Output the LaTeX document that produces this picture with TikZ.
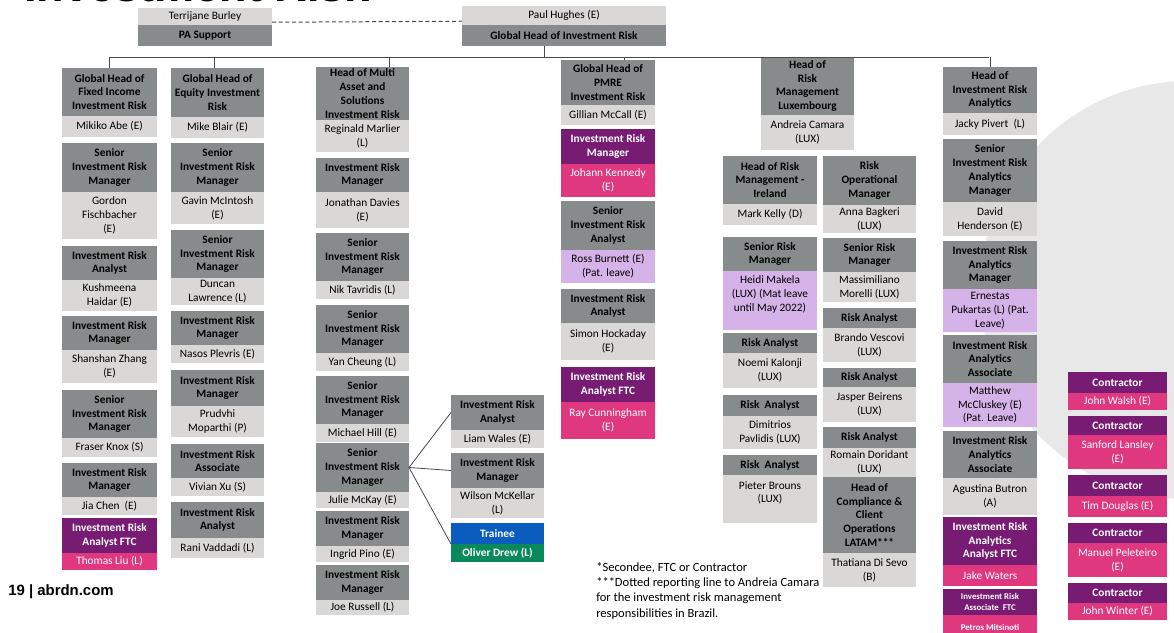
\documentclass[tikz,border=0pt]{standalone}
\usepackage{fontspec}
\setmainfont{Carlito}
\newfontfamily\arialfont{Liberation Sans}
\usepackage{tikz}
\usetikzlibrary{positioning}

\definecolor{titlegrey}{HTML}{878B8B}
\definecolor{namegrey}{HTML}{DAD7D7}
\definecolor{plum}{HTML}{781B72}
\definecolor{pinkc}{HTML}{E0387F}
\definecolor{lavender}{HTML}{D5B2E7}
\definecolor{traineeblue}{HTML}{0B5CBF}
\definecolor{traineegreen}{HTML}{0A8A5C}
\definecolor{linkgrey}{HTML}{4A4A4A}
\definecolor{bgcircle}{HTML}{E8E8E8}

% one role: title part over name part, column set by \bx and \bw
\newcommand{\rolebox}[8]{%
  \node (#1) [#5, minimum width={\bw*0.75pt}, minimum height={(#3-#2)*0.75pt}]
    at ({\bx+\bw/2},{(#2+#3)/2}) {#7};
  \node (#1p) [#6, minimum width={\bw*0.75pt}, minimum height={(#4-#3)*0.75pt}]
    at ({\bx+\bw/2},{(#3+#4)/2}) {#8};}

\begin{document}
\begin{tikzpicture}[x=0.75pt, y=-0.75pt,
  ttl/.style={fill=titlegrey, text=black, align=center, inner sep=0pt,
    outer sep=0pt, font=\bfseries\fontsize{8.5}{10.3}\selectfont},
  nme/.style={fill=namegrey, text=black, align=center, inner sep=0pt,
    outer sep=0pt, font=\fontsize{8.5}{10.3}\selectfont},
  ttlftc/.style={ttl, fill=plum, text=white},
  nmeftc/.style={nme, fill=pinkc, text=white},
  nmeleave/.style={nme, fill=lavender},
  ttltrainee/.style={ttl, fill=traineeblue, text=white},
  nmetrainee/.style={nme, fill=traineegreen, text=white},
  orgline/.style={draw=linkgrey, line width=0.75pt}]

\useasboundingbox (0,0) rectangle (1174,632);
\clip (0,0) rectangle (1174,632);
\fill[white] (0,0) rectangle (1174,632);
\fill[bgcircle] (1189,290) circle (209);

\node (slidetitle) [anchor=base west, inner sep=0pt,
  font=\arialfont\bfseries\fontsize{33.8}{40}\selectfont] at (24,1.5) {Investment Risk};

% top of the tree
\node (terri) [nme, minimum width=100.5pt, minimum height=12.75pt] at (205,16.5) {Terrijane Burley};
\node (pa) [ttl, minimum width=100.5pt, minimum height=15.75pt] at (205,35.5) {PA Support};
\node (paul) [nme, minimum width=153pt, minimum height=14.25pt] at (564,15.5) {Paul Hughes (E)};
\node (ghir) [ttl, minimum width=153pt, minimum height=15.75pt] at (564,35.5) {Global Head of Investment Risk};

% fixed income
\def\bx{62}\def\bw{95}
\rolebox{fi1}{68}{116}{137}{ttl}{nme}{Global Head of\\Fixed Income\\Investment Risk}{Mikiko Abe (E)}
\rolebox{fi2}{143}{192}{239}{ttl}{nme}{Senior\\Investment Risk\\Manager}{Gordon\\Fischbacher\\(E)}
\rolebox{fi3}{246}{280}{311}{ttl}{nme}{Investment Risk\\Analyst}{Kushmeena\\Haidar (E)}
\rolebox{fi4}{316}{350}{383}{ttl}{nme}{Investment Risk\\Manager}{Shanshan Zhang\\(E)}
\rolebox{fi5}{390}{438}{457}{ttl}{nme}{Senior\\Investment Risk\\Manager}{Fraser Knox (S)}
\rolebox{fi6}{463}{497}{515}{ttl}{nme}{Investment Risk\\Manager}{Jia Chen\ \ (E)}
\rolebox{fi7}{518}{553}{570}{ttlftc}{nmeftc}{Investment Risk\\Analyst FTC}{Thomas Liu (L)}

% equity
\def\bx{171}\def\bw{93}
\rolebox{eq1}{68}{117}{138}{ttl}{nme}{Global Head of\\Equity Investment\\Risk}{Mike Blair (E)}
\rolebox{eq2}{143}{192}{224}{ttl}{nme}{Senior\\Investment Risk\\Manager}{Gavin McIntosh\\(E)}
\rolebox{eq3}{230}{278}{305}{ttl}{nme}{Senior\\Investment Risk\\Manager}{Duncan\\Lawrence (L)}
\rolebox{eq4}{311}{345}{363}{ttl}{nme}{Investment Risk\\Manager}{Nasos Plevris (E)}
\rolebox{eq5}{370}{406}{437}{ttl}{nme}{Investment Risk\\Manager}{Prudvhi\\Moparthi (P)}
\rolebox{eq6}{444}{478}{496}{ttl}{nme}{Investment Risk\\Associate}{Vivian Xu (S)}
\rolebox{eq7}{502}{538}{558}{ttl}{nme}{Investment Risk\\Analyst}{Rani Vaddadi (L)}

% multi asset
\def\bx{316}\def\bw{93}
\rolebox{ma1}{67}{120}{152}{ttl}{nme}{Head of Multi\\Asset and\\Solutions\\Investment Risk}{Reginald Marlier\\(L)}
\rolebox{ma2}{158}{192}{228}{ttl}{nme}{Investment Risk\\Manager}{Jonathan Davies\\(E)}
\rolebox{ma3}{233}{281}{299}{ttl}{nme}{Senior\\Investment Risk\\Manager}{Nik Tavridis (L)}
\rolebox{ma4}{305}{353}{371}{ttl}{nme}{Senior\\Investment Risk\\Manager}{Yan Cheung (L)}
\rolebox{ma5}{376}{424}{442}{ttl}{nme}{Senior\\Investment Risk\\Manager}{Michael Hill (E)}
\rolebox{ma6}{443}{492}{508}{ttl}{nme}{Senior\\Investment Risk\\Manager}{Julie McKay (E)}
\rolebox{ma7}{511}{546}{562}{ttl}{nme}{Investment Risk\\Manager}{Ingrid Pino (E)}
\rolebox{ma8}{565}{600}{615}{ttl}{nme}{Investment Risk\\Manager}{Joe Russell (L)}

\def\bx{451}\def\bw{93}
\rolebox{mb1}{395}{430}{448}{ttl}{nme}{Investment Risk\\Analyst}{Liam Wales (E)}
\rolebox{mb2}{453}{488}{518}{ttl}{nme}{Investment Risk\\Manager}{Wilson McKellar\\(L)}
\rolebox{mb3}{523}{544}{562}{ttltrainee}{nmetrainee, font=\bfseries\fontsize{8.5}{10.3}\selectfont}{Trainee}{Oliver Drew (L)}

% pmre
\def\bx{561}\def\bw{94}
\rolebox{pm1}{60}{105}{125}{ttl}{nme}{Global Head of\\PMRE\\Investment Risk}{Gillian McCall (E)}
\rolebox{pm2}{129}{164}{197}{ttlftc}{nmeftc}{Investment Risk\\Manager}{Johann Kennedy\\(E)}
\rolebox{pm3}{201}{250}{283}{ttl}{nmeleave}{Senior\\Investment Risk\\Analyst}{Ross Burnett (E)\\(Pat. leave)}
\rolebox{pm4}{289}{323}{360}{ttl}{nme}{Investment Risk\\Analyst}{Simon Hockaday\\(E)}
\rolebox{pm5}{367}{402}{439}{ttlftc}{nmeftc}{Investment Risk\\Analyst FTC}{Ray Cunningham\\(E)}

% luxembourg
\def\bx{761}\def\bw{93}
\rolebox{lx1}{57}{115}{150}{ttl}{nme}{Head of\\Risk\\Management\\Luxembourg}{Andreia Camara\\(LUX)}
\def\bx{723}\def\bw{94}
\rolebox{lx2}{156}{204}{225}{ttl}{nme}{Head of Risk\\Management -\\Ireland}{Mark Kelly (D)}
\rolebox{lx3}{237}{271}{330}{ttl}{nmeleave}{Senior Risk\\Manager}{Heidi Makela\\(LUX) (Mat leave\\until May 2022)\\\mbox{}}
\rolebox{lx4}{333}{353}{388}{ttl}{nme}{Risk Analyst}{Noemi Kalonji\\(LUX)}
\rolebox{lx5}{395}{416}{449}{ttl}{nme}{Risk\ \ Analyst}{Dimitrios\\Pavlidis (LUX)}
\rolebox{lx6}{455}{475}{523}{ttl}{nme}{Risk\ \ Analyst}{Pieter Brouns\\(LUX)\\\mbox{}}
\def\bx{823}\def\bw{93}
\rolebox{lx7}{156}{205}{233}{ttl}{nme}{Risk\\Operational\\Manager}{Anna Bagkeri\\(LUX)}
\rolebox{lx8}{238}{272}{302}{ttl}{nme}{Senior Risk\\Manager}{Massimiliano\\Morelli (LUX)}
\rolebox{lx9}{308}{328}{362}{ttl}{nme}{Risk Analyst}{Brando Vescovi\\(LUX)}
\rolebox{lx10}{368}{387}{422}{ttl}{nme}{Risk Analyst}{Jasper Beirens\\(LUX)}
\rolebox{lx11}{427}{448}{477}{ttl}{nme}{Risk Analyst}{Romain Doridant\\(LUX)}
\rolebox{lx12}{477}{553}{587}{ttl}{nme}{Head of\\Compliance \&\\Client\\Operations\\LATAM***}{Thatiana Di Sevo\\(B)}

% analytics
\def\bx{943}\def\bw{94}
\rolebox{an1}{67}{113}{135}{ttl}{nme}{Head of\\Investment Risk\\Analytics}{Jacky Pivert\ \ (L)}
\rolebox{an2}{139}{202}{236}{ttl}{nme}{Senior\\Investment Risk\\Analytics\\Manager}{David\\Henderson (E)}
\rolebox{an3}{241}{289}{332}{ttl}{nmeleave}{Investment Risk\\Analytics\\Manager}{Ernestas\\Pukartas (L) (Pat.\\Leave)}
\rolebox{an4}{335}{383}{427}{ttl}{nmeleave}{Investment Risk\\Analytics\\Associate}{Matthew\\McCluskey (E)\\(Pat. Leave)}
\rolebox{an5}{431}{478}{515}{ttl}{nme}{Investment Risk\\Analytics\\Associate}{Agustina Butron\\(A)}
\rolebox{an6}{517}{565}{586}{ttlftc}{nmeftc}{Investment Risk\\Analytics\\Analyst FTC}{Jake Waters}
\rolebox{an7}{589}{615}{640}{ttlftc, font=\bfseries\fontsize{6.6}{7.8}\selectfont}{nmeftc, font=\bfseries\fontsize{6.6}{7.8}\selectfont}{Investment Risk\\Associate\ \ FTC}{Petros Mitsinoti}

% contractors
\def\bx{1068}\def\bw{99}
\rolebox{ct1}{372}{393}{410}{ttlftc}{nmeftc}{Contractor}{John Walsh (E)}
\rolebox{ct2}{416}{435}{469}{ttlftc}{nmeftc}{Contractor}{Sanford Lansley\\(E)}
\rolebox{ct3}{475}{496}{517}{ttlftc}{nmeftc}{Contractor}{Tim Douglas (E)}
\rolebox{ct4}{523}{543}{577}{ttlftc}{nmeftc}{Contractor}{Manuel Peleteiro\\(E)}
\rolebox{ct5}{583}{603}{620}{ttlftc}{nmeftc}{Contractor}{John Winter (E)}

% reporting lines
\coordinate (busL) at (110,57);
\coordinate (busR) at (989,57);
\draw[orgline] (busL) -- (busR);
\draw[orgline] ([xshift=-14.3pt]ghir.south) -- ([xshift=-14.3pt]ghir.south |- busL);
\draw[orgline] (fi1.north) -- (fi1.north |- busL);
\draw[orgline] ([xshift=-1.9pt]eq1.north) -- ([xshift=-1.9pt]eq1.north |- busL);
\draw[orgline] ([xshift=20.6pt]ma1.north) -- ([xshift=20.6pt]ma1.north |- busL);
\draw[orgline] ([xshift=12pt]pm1.north) -- ([xshift=12pt]pm1.north |- busL);
\draw[orgline] (an1.north) -- (an1.north |- busL);
\draw[orgline, dash pattern=on 3pt off 2pt] ([yshift=-4.3pt]terri.east) -- ([yshift=-4.3pt]paul.west);

\draw[orgline, line width=0.6pt] (ma6.east) -- (mb1.west);
\draw[orgline, line width=0.6pt] (ma6.east) -- (mb2.west);
\draw[orgline, line width=0.6pt] (ma6.east) -- (mb3.south west);

% notes
\node (notes) [anchor=north west, align=left, inner sep=0pt,
  font=\fontsize{9.4}{11.5}\selectfont] at (596,562)
  {*Secondee, FTC or Contractor\\***Dotted reporting line to Andreia Camara\\for the investment risk management\\responsibilities in Brazil.};
\node (pageno) [anchor=west, inner sep=0pt,
  font=\arialfont\bfseries\fontsize{11.2}{13}\selectfont] at (8,592) {19 | abrdn.com};

\end{tikzpicture}
\end{document}
